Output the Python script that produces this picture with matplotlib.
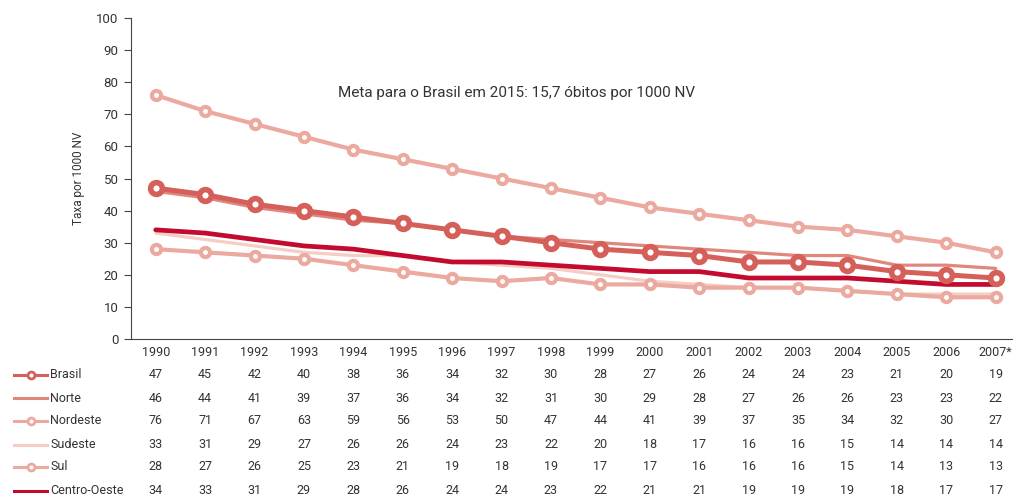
import matplotlib
matplotlib.use("Agg")
import matplotlib.pyplot as plt
from matplotlib.lines import Line2D
from matplotlib.transforms import blended_transform_factory

years = ["1990", "1991", "1992", "1993", "1994", "1995", "1996", "1997", "1998",
         "1999", "2000", "2001", "2002", "2003", "2004", "2005", "2006", "2007*"]
series_names = ["Brasil", "Norte", "Nordeste", "Sudeste", "Sul", "Centro-Oeste"]
brasil = [47, 45, 42, 40, 38, 36, 34, 32, 30, 28, 27, 26, 24, 24, 23, 21, 20, 19]
norte = [46, 44, 41, 39, 37, 36, 34, 32, 31, 30, 29, 28, 27, 26, 26, 23, 23, 22]
nordeste = [76, 71, 67, 63, 59, 56, 53, 50, 47, 44, 41, 39, 37, 35, 34, 32, 30, 27]
sudeste = [33, 31, 29, 27, 26, 26, 24, 23, 22, 20, 18, 17, 16, 16, 15, 14, 14, 14]
sul = [28, 27, 26, 25, 23, 21, 19, 18, 19, 17, 17, 16, 16, 16, 15, 14, 13, 13]
centro_oeste = [34, 33, 31, 29, 28, 26, 24, 24, 23, 22, 21, 21, 19, 19, 19, 18, 17, 17]
yticks = [0, 10, 20, 30, 40, 50, 60, 70, 80, 90, 100]
annotation = "Meta para o Brasil em 2015: 15,7 óbitos por 1000 NV"

plt.rcParams['font.family'] = ['Roboto', 'DejaVu Sans']

W, H = 1013, 500
fig = plt.figure(figsize=(W / 100, H / 100), dpi=100)
ax = fig.add_axes([131 / W, 1 - 339 / H, (1013 - 131) / W, (339 - 18) / H])

x = list(range(len(years)))
styles = {
    "Brasil": dict(color="#d5605a", lw=3.6, marker="o", ms=8.5, mew=4, mfc="white", zorder=6),
    "Norte": dict(color="#e0877d", lw=2.3, zorder=4),
    "Nordeste": dict(color="#eba99f", lw=3, marker="o", ms=6.6, mew=3, mfc="white", zorder=5),
    "Sudeste": dict(color="#f5cdc4", lw=2.3, zorder=3),
    "Sul": dict(color="#eba99f", lw=3, marker="o", ms=6.6, mew=3, mfc="white", zorder=5),
    "Centro-Oeste": dict(color="#c20b2e", lw=3.4, zorder=5),
}
data = {"Brasil": brasil, "Norte": norte, "Nordeste": nordeste,
        "Sudeste": sudeste, "Sul": sul, "Centro-Oeste": centro_oeste}
for name in ["Sudeste", "Norte", "Centro-Oeste", "Sul", "Nordeste", "Brasil"]:
    st = styles[name]
    ax.plot(x, data[name], solid_capstyle="round", **st)

ax.set_xlim(-0.5, 17.35)
ax.set_ylim(0, 100)
ax.set_yticks(yticks)
ax.set_yticklabels([str(v) for v in yticks], fontsize=9.5, color="#333333")
ax.set_xticks([])
for s in ["top", "right"]:
    ax.spines[s].set_visible(False)
ax.spines["left"].set_color("#444444")
ax.spines["bottom"].set_color("#444444")
ax.tick_params(axis="y", length=5, color="#444444", pad=4)
ax.set_ylabel("Taxa por 1000 NV", fontsize=8.5, color="#333333", labelpad=8)

ax.text(7.3, 76.5, annotation, ha="center", va="center", fontsize=11, color="#333333")

trans = blended_transform_factory(ax.transData, fig.transFigure)
ax_year_y = 1 - 352 / H
for i, yr in enumerate(years):
    ax.text(i, ax_year_y, yr, transform=trans, ha="center", va="center",
            fontsize=9, color="#333333", clip_on=False)

row_px = [375, 398, 421, 445, 467, 491]
for name, ypx in zip(series_names, row_px):
    fy = 1 - ypx / H
    for i, v in enumerate(data[name]):
        ax.text(i, fy, str(v), transform=trans, ha="center", va="center",
                fontsize=9, color="#333333", clip_on=False)
    st = styles[name]
    line = Line2D([14 / W, 47 / W], [fy, fy], transform=fig.transFigure,
                  color=st["color"], lw=2.2)
    fig.add_artist(line)
    if "marker" in st:
        mk = Line2D([31 / W], [fy], transform=fig.transFigure, marker="o",
                    ms=5, mew=2, mfc="white", mec=st["color"], lw=0)
        fig.add_artist(mk)
    fig.text(50 / W, fy, name, ha="left", va="center", fontsize=9, color="#333333")

fig.savefig("out.png", dpi=100)
